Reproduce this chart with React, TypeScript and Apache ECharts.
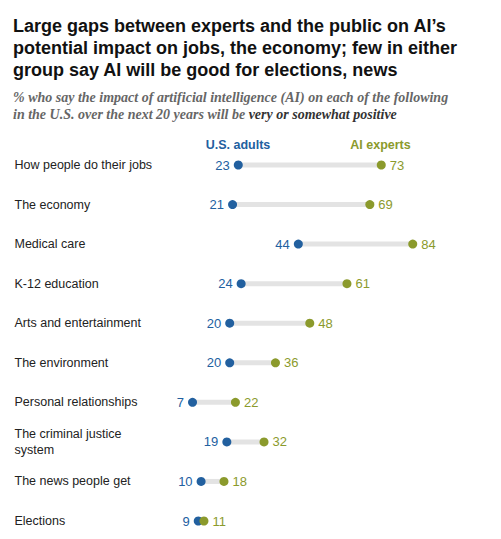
import React, { useEffect, useRef } from "react";
import * as echarts from "echarts";

const categories = [
  "How people do their jobs",
  "The economy",
  "Medical care",
  "K-12 education",
  "Arts and entertainment",
  "The environment",
  "Personal relationships",
  "The criminal justice\nsystem",
  "The news people get",
  "Elections",
];
const usAdults = [23, 21, 44, 24, 20, 20, 7, 19, 10, 9];
const aiExperts = [73, 69, 84, 61, 48, 36, 22, 32, 18, 11];

const BLUE = "#22609f";
const GREEN = "#8b9a2c";
const SERIF = "Liberation Serif, Georgia, serif";

const App = () => {
  const chartRef = useRef<HTMLDivElement>(null);

  useEffect(() => {
    if (!chartRef.current) return;
    const chart = echarts.init(chartRef.current, null, { renderer: "svg" });

    const option: echarts.EChartsOption = {
      animation: false,
      textStyle: { fontFamily: "Liberation Sans, Arial, sans-serif" },
      title: [
        {
          text: "Large gaps between experts and the public on AI’s\npotential impact on jobs, the economy; few in either\ngroup say AI will be good for elections, news",
          left: 8,
          top: 10,
          textStyle: { fontSize: 18, fontWeight: "bold", color: "#111", lineHeight: 22 },
        },
        {
          text: "% who say the impact of artificial intelligence (AI) on each of the following\nin the U.S. over the next 20 years will be {b|very or somewhat positive}",
          left: 8,
          top: 84,
          textStyle: {
            fontSize: 14,
            fontStyle: "italic",
            fontFamily: SERIF,
            color: "#666",
            lineHeight: 17,
            rich: {
              b: {
                fontSize: 14,
                fontStyle: "italic",
                fontWeight: "bold",
                fontFamily: SERIF,
                color: "#333",
              },
            },
          },
        },
      ],
      grid: { left: 172.5, width: 286, top: 165, height: 356 },
      xAxis: { type: "value", min: 0, max: 100, show: false },
      yAxis: {
        type: "category",
        data: categories,
        inverse: true,
        boundaryGap: false,
        axisLine: { show: false },
        axisTick: { show: false },
        splitLine: { show: false },
        axisLabel: {
          align: "left",
          margin: 158,
          fontSize: 12.5,
          color: "#222",
          lineHeight: 16,
        },
      },
      series: [
        {
          type: "custom",
          silent: true,
          data: categories.map((_, i) => [usAdults[i], aiExperts[i], i]),
          renderItem: (params: any, api: any) => {
            const a = api.coord([api.value(0), api.value(2)]);
            const b = api.coord([api.value(1), api.value(2)]);
            return {
              type: "line",
              shape: { x1: a[0], y1: a[1], x2: b[0], y2: b[1] },
              style: { stroke: "#e3e3e3", lineWidth: 5 },
            };
          },
        },
        {
          type: "scatter",
          name: "U.S. adults",
          data: usAdults.map((v, i) => [v, i]),
          symbolSize: 9,
          itemStyle: { color: BLUE, opacity: 1 },
          label: {
            show: true,
            position: "left",
            distance: 4,
            formatter: (p: any) => String(p.value[0]),
            color: BLUE,
            fontSize: 13,
          },
        },
        {
          type: "scatter",
          name: "AI experts",
          data: aiExperts.map((v, i) => [v, i]),
          symbolSize: 9,
          itemStyle: { color: GREEN, opacity: 1 },
          label: {
            show: true,
            position: "right",
            distance: 4,
            formatter: (p: any) => String(p.value[0]),
            color: GREEN,
            fontSize: 13,
          },
        },
      ],
      graphic: [
        {
          type: "text",
          x: 238,
          y: 145,
          style: {
            text: "U.S. adults",
            fill: BLUE,
            font: "bold 12.5px Liberation Sans, Arial, sans-serif",
            align: "center",
            verticalAlign: "middle",
          },
        },
        {
          type: "text",
          x: 380.5,
          y: 145,
          style: {
            text: "AI experts",
            fill: GREEN,
            font: "bold 12.5px Liberation Sans, Arial, sans-serif",
            align: "center",
            verticalAlign: "middle",
          },
        },
      ],
    };

    chart.setOption(option);
    return () => {
      chart.dispose();
    };
  }, []);

  return (
    <div
      ref={chartRef}
      style={{ position: "absolute", left: 0, top: 0, width: 501, height: 539, background: "#fff" }}
    />
  );
};

export default App;
